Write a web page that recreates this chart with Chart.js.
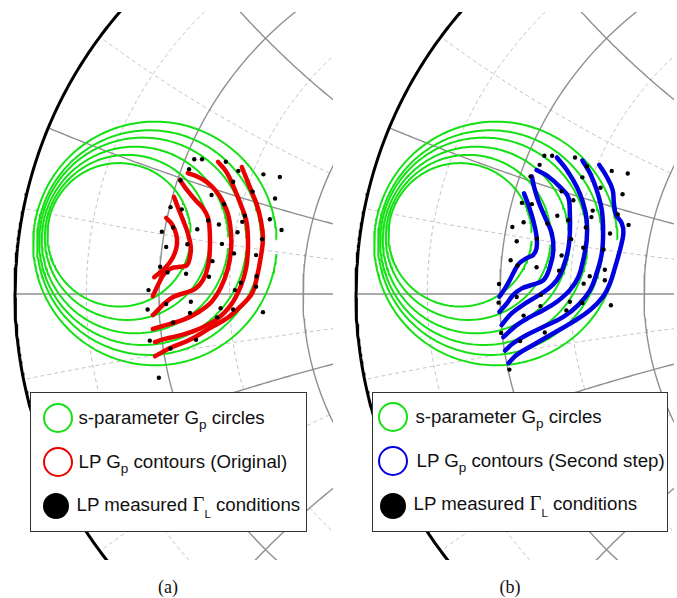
<!DOCTYPE html>
<html>
<head>
<meta charset="utf-8">
<script src="https://cdn.jsdelivr.net/npm/chart.js@4.4.1/dist/chart.umd.min.js"></script>
<style>
  html, body { margin: 0; padding: 0; background: #fff; }
  #page { position: relative; width: 677px; height: 598px; overflow: hidden; background: #fff; }
  .panel { position: absolute; top: 12px; width: 333px; height: 548px; }
  .legend { position: absolute; top: 392px; height: 140px; box-sizing: border-box;
            border: 1.5px solid #333; background: #fff; color: #111;
            font-family: "Liberation Sans", Arial, sans-serif; font-size: 18.7px; }
  .ring { position: absolute; width: 30px; height: 30px; box-sizing: border-box; border: 2.2px solid; border-radius: 50%; }
  .dot { position: absolute; width: 26px; height: 26px; border-radius: 50%; background: #000; }
  .row { position: absolute; line-height: 1; white-space: nowrap; }
  .sub { font-size: 13.5px; position: relative; top: 5px; line-height: 0; }
  .gam { font-family: "Liberation Serif", "Times New Roman", serif; font-size: 20.5px; line-height: 0; }
  .subL { font-size: 11.5px; position: relative; top: 7px; line-height: 0; }
  .cap { position: absolute; top: 578px; width: 40px; margin-left: -20px; text-align: center;
         font-family: "Liberation Serif", "Times New Roman", serif; font-size: 18px; line-height: 1; color: #111; }
</style>
</head>
<body>
<div id="page">
  <canvas id="panelA" class="panel" style="left:0px" width="333" height="548"></canvas>
  <canvas id="panelB" class="panel" style="left:341px" width="333" height="548"></canvas>

  <div class="legend" style="left:30px; width:277px;">
    <div class="ring" style="left:11.5px; top:9.5px; border-color:rgb(20,225,20);"></div>
    <div class="row" style="left:47.5px; top:15.5px;">s-parameter G<span class="sub">p</span> circles</div>
    <div class="ring" style="left:11.5px; top:53.5px; border-color:rgb(235,0,0);"></div>
    <div class="row" style="left:47.5px; top:59.5px;">LP G<span class="sub">p</span> contours (Original)</div>
    <div class="dot" style="left:11.5px; top:99.5px;"></div>
    <div class="row" style="left:45.5px; top:102.5px;">LP measured <span class="gam">Γ</span><span class="subL">L</span> conditions</div>
  </div>

  <div class="legend" style="left:372px; width:296px;">
    <div class="ring" style="left:4.5px; top:8.5px; border-color:rgb(20,225,20);"></div>
    <div class="row" style="left:42.5px; top:14.5px;">s-parameter G<span class="sub">p</span> circles</div>
    <div class="ring" style="left:4.5px; top:52.5px; border-color:rgb(0,0,225);"></div>
    <div class="row" style="left:43.5px; top:58.5px;">LP G<span class="sub">p</span> contours (Second step)</div>
    <div class="dot" style="left:7px; top:99.5px;"></div>
    <div class="row" style="left:40.5px; top:101.5px;">LP measured <span class="gam">Γ</span><span class="subL">L</span> conditions</div>
  </div>

  <div class="cap" style="left:168px;">(a)</div>
  <div class="cap" style="left:510px;">(b)</div>
</div>

<script>
// Smith chart grid values (normalised resistance / reactance)
const gridResMajor   = [0.2, 0.5, 1, 2, 5];
const gridResMinor   = [0.09, 0.33];
const gridReactMajor = [0.2, 0.5, 1, 2, 5];
const gridReactMinor = [0.1, 0.33];

// s-parameter constant power-gain circles (reflection-coefficient plane)
const gpCenterRe = [-0.759, -0.740, -0.722, -0.704, -0.689, -0.676];
const gpCenterIm = [0.137, 0.131, 0.125, 0.122, 0.119, 0.117];
const gpRadius   = [0.166, 0.191, 0.216, 0.240, 0.260, 0.282];

// Load-pull Gp contours, original
const lpOrigRe = [
  [-0.650, -0.637, -0.627, -0.625, -0.630, -0.641, -0.657, -0.678],
  [-0.632, -0.623, -0.611, -0.600, -0.593, -0.595, -0.602, -0.618, -0.637, -0.653, -0.667, -0.681],
  [-0.618, -0.602, -0.583, -0.565, -0.553, -0.549, -0.549, -0.553, -0.565, -0.583, -0.609, -0.634, -0.653, -0.671, -0.681],
  [-0.600, -0.576, -0.556, -0.537, -0.521, -0.507, -0.500, -0.500, -0.507, -0.523, -0.546, -0.579, -0.611, -0.641, -0.681],
  [-0.530, -0.509, -0.491, -0.477, -0.465, -0.461, -0.461, -0.465, -0.477, -0.500, -0.532, -0.579, -0.623, -0.653, -0.676],
  [-0.475, -0.463, -0.451, -0.440, -0.431, -0.426, -0.431, -0.440, -0.451, -0.479, -0.509, -0.549, -0.595, -0.641, -0.676]
];
const lpOrigIm = [
  [0.176, 0.162, 0.139, 0.116, 0.095, 0.074, 0.056, 0.039],
  [0.225, 0.201, 0.171, 0.141, 0.109, 0.086, 0.067, 0.063, 0.060, 0.049, 0.025, -0.005],
  [0.264, 0.241, 0.218, 0.199, 0.176, 0.141, 0.102, 0.065, 0.032, 0.012, 0.002, -0.007, -0.021, -0.039, -0.049],
  [0.280, 0.271, 0.259, 0.241, 0.218, 0.185, 0.141, 0.102, 0.060, 0.016, -0.019, -0.044, -0.060, -0.069, -0.081],
  [0.306, 0.280, 0.241, 0.206, 0.171, 0.137, 0.097, 0.060, 0.019, -0.025, -0.058, -0.083, -0.097, -0.104, -0.111],
  [0.294, 0.264, 0.234, 0.206, 0.171, 0.130, 0.086, 0.039, 0.002, -0.030, -0.056, -0.079, -0.106, -0.125, -0.144]
];

// Load-pull Gp contours, second step
const lpStep2Re = [
  [-0.611, -0.601, -0.590, -0.582, -0.582, -0.590, -0.605, -0.622, -0.634, -0.644, -0.655, -0.668],
  [-0.593, -0.586, -0.576, -0.563, -0.547, -0.543, -0.551, -0.566, -0.593, -0.616, -0.636, -0.651, -0.668],
  [-0.582, -0.555, -0.528, -0.509, -0.505, -0.505, -0.509, -0.520, -0.535, -0.559, -0.582, -0.613, -0.640, -0.663],
  [-0.535, -0.512, -0.489, -0.474, -0.466, -0.466, -0.474, -0.485, -0.505, -0.535, -0.566, -0.597, -0.628, -0.659],
  [-0.476, -0.458, -0.443, -0.431, -0.428, -0.431, -0.443, -0.458, -0.485, -0.520, -0.566, -0.605, -0.636, -0.655],
  [-0.437, -0.420, -0.406, -0.403, -0.398, -0.385, -0.381, -0.389, -0.400, -0.412, -0.428, -0.458, -0.497, -0.543, -0.590, -0.628, -0.647]
];
const lpStep2Im = [
  [0.233, 0.206, 0.171, 0.133, 0.106, 0.090, 0.083, 0.071, 0.052, 0.032, 0.013, -0.006],
  [0.272, 0.241, 0.210, 0.179, 0.141, 0.102, 0.063, 0.032, 0.021, 0.013, -0.002, -0.022, -0.041],
  [0.287, 0.272, 0.248, 0.225, 0.187, 0.141, 0.102, 0.063, 0.032, 0.009, -0.006, -0.025, -0.045, -0.072],
  [0.316, 0.287, 0.248, 0.210, 0.171, 0.125, 0.079, 0.040, 0.009, -0.018, -0.037, -0.053, -0.072, -0.100],
  [0.309, 0.279, 0.241, 0.194, 0.141, 0.094, 0.048, 0.009, -0.025, -0.053, -0.076, -0.095, -0.114, -0.131],
  [0.299, 0.272, 0.241, 0.210, 0.183, 0.164, 0.141, 0.102, 0.063, 0.025, -0.006, -0.037, -0.064, -0.091, -0.118, -0.141, -0.160]
];

// Measured load reflection coefficients
const measOrigRe = [-0.585, -0.567, -0.512, -0.597, -0.483, -0.425, -0.387, -0.617, -0.495, -0.450,
  -0.545, -0.398, -0.516, -0.640, -0.614, -0.468, -0.474, -0.410, -0.553, -0.528,
  -0.383, -0.660, -0.634, -0.578, -0.485, -0.428, -0.650, -0.601, -0.521, -0.493,
  -0.442, -0.543, -0.664, -0.647, -0.604, -0.551, -0.441, -0.477, -0.442, -0.491,
  -0.691, -0.650, -0.593, -0.693, -0.524, -0.495, -0.426, -0.595, -0.532, -0.634,
  -0.688, -0.581, -0.640, -0.667];
const measOrigIm = [0.312, 0.312, 0.306, 0.289, 0.285, 0.277, 0.271, 0.263, 0.260, 0.237,
  0.229, 0.221, 0.208, 0.201, 0.196, 0.181, 0.167, 0.173, 0.170, 0.161,
  0.148, 0.144, 0.154, 0.150, 0.143, 0.127, 0.109, 0.115, 0.116, 0.094,
  0.090, 0.076, 0.063, 0.050, 0.047, 0.040, 0.041, 0.026, 0.017, 0.009,
  0.009, -0.023, -0.018, -0.036, -0.033, -0.036, -0.042, -0.044, -0.054, -0.066,
  -0.108, -0.106, -0.126, -0.194];
const measStep2Re = [-0.564, -0.546, -0.493, -0.465, -0.575, -0.408, -0.371, -0.596, -0.476, -0.434,
  -0.524, -0.383, -0.497, -0.616, -0.593, -0.452, -0.394, -0.455, -0.534, -0.509,
  -0.369, -0.612, -0.638, -0.557, -0.468, -0.412, -0.628, -0.581, -0.502, -0.474,
  -0.427, -0.524, -0.642, -0.626, -0.582, -0.530, -0.424, -0.459, -0.424, -0.473,
  -0.669, -0.628, -0.572, -0.670, -0.505, -0.476, -0.410, -0.573, -0.513, -0.612,
  -0.664, -0.563, -0.620, -0.645];
const measStep2Im = [0.320, 0.320, 0.316, 0.295, 0.299, 0.285, 0.279, 0.272, 0.270, 0.246,
  0.238, 0.231, 0.217, 0.211, 0.208, 0.193, 0.184, 0.178, 0.181, 0.171,
  0.160, 0.166, 0.155, 0.163, 0.154, 0.140, 0.122, 0.128, 0.127, 0.107,
  0.103, 0.089, 0.078, 0.066, 0.062, 0.054, 0.056, 0.041, 0.032, 0.024,
  0.023, -0.007, -0.002, -0.020, -0.018, -0.021, -0.026, -0.028, -0.038, -0.050,
  -0.090, -0.089, -0.109, -0.175];

// Visible window of the reflection-coefficient plane
const VIEW = { xMin: -1.03472, xMax: -0.26389, yMin: -0.61574, yMax: 0.65278 };

const COL = {
  gridMajor: '#8f8f8f', gridMinor: '#c4c4c4', rim: '#000',
  green: 'rgb(20,225,20)', red: 'rgb(235,0,0)', blue: 'rgb(0,0,225)'
};

function arcPoints(cx, cy, r, a0, a1, n) {
  const pts = [];
  for (let i = 0; i <= n; i++) {
    const a = a0 + (a1 - a0) * i / n;
    pts.push({ x: cx + r * Math.cos(a), y: cy + r * Math.sin(a) });
  }
  return pts;
}
function resistanceCircle(r) {
  return arcPoints(r / (1 + r), 0, 1 / (1 + r), 0, 2 * Math.PI, 360);
}
function reactanceArcs(x) {
  const c = 1 / x;
  const ex = (x * x - 1) / (x * x + 1), ey = 2 * x / (x * x + 1);
  const a0 = -Math.PI / 2;
  let a1 = Math.atan2(ey - c, ex - 1);
  if (a1 > a0) a1 -= 2 * Math.PI;
  const upper = arcPoints(1, c, c, a0, a1, 300);
  const lower = upper.map(p => ({ x: p.x, y: -p.y }));
  return [upper, lower];
}
function lineSet(data, color, width, order, dash) {
  return { data, showLine: true, pointRadius: 0, borderColor: color, borderWidth: width,
           borderDash: dash || [], tension: 0, fill: false, order };
}

function buildPanel(canvasId, contRe, contIm, contColor, ptRe, ptIm) {
  const ds = [];
  // minor (dashed) grid
  gridResMinor.forEach(r => ds.push(lineSet(resistanceCircle(r), COL.gridMinor, 1, 6, [4, 3])));
  gridReactMinor.forEach(x => reactanceArcs(x).forEach(a => ds.push(lineSet(a, COL.gridMinor, 1, 6, [4, 3]))));
  // major grid
  gridResMajor.forEach(r => ds.push(lineSet(resistanceCircle(r), COL.gridMajor, 1.4, 5)));
  gridReactMajor.forEach(x => reactanceArcs(x).forEach(a => ds.push(lineSet(a, COL.gridMajor, 1.4, 5))));
  ds.push(lineSet([{ x: -1, y: 0 }, { x: 1, y: 0 }], COL.gridMajor, 1.4, 5));
  // outer |Gamma| = 1 rim
  ds.push(lineSet(arcPoints(0, 0, 1, 0, 2 * Math.PI, 720), COL.rim, 3, 4));
  // gain circles (small opening on the right side)
  gpRadius.forEach((rad, i) => {
    ds.push(lineSet(arcPoints(gpCenterRe[i], gpCenterIm[i], rad,
      2 * Math.PI / 180, 355 * Math.PI / 180, 240), COL.green, 2, 3));
  });
  // load-pull contours
  contRe.forEach((xs, k) => {
    const pts = xs.map((v, i) => ({ x: v, y: contIm[k][i] }));
    ds.push({ data: pts, showLine: true, pointRadius: 0, borderColor: contColor, borderWidth: 4.5,
              tension: 0.4, borderCapStyle: 'round', borderJoinStyle: 'round', fill: false, order: 2 });
  });
  // measured points
  ds.push({ data: ptRe.map((v, i) => ({ x: v, y: ptIm[i] })), showLine: false,
            pointRadius: 2.2, pointBackgroundColor: '#000', pointBorderWidth: 0, order: 1 });

  new Chart(document.getElementById(canvasId), {
    type: 'scatter',
    data: { datasets: ds },
    options: {
      responsive: false, animation: false, devicePixelRatio: 1, events: [],
      layout: { padding: 0, autoPadding: false },
      plugins: { legend: { display: false }, tooltip: { enabled: false } },
      scales: {
        x: { type: 'linear', display: false, min: VIEW.xMin, max: VIEW.xMax },
        y: { type: 'linear', display: false, min: VIEW.yMin, max: VIEW.yMax }
      }
    }
  });
}

buildPanel('panelA', lpOrigRe, lpOrigIm, COL.red, measOrigRe, measOrigIm);
buildPanel('panelB', lpStep2Re, lpStep2Im, COL.blue, measStep2Re, measStep2Im);
</script>
</body>
</html>
